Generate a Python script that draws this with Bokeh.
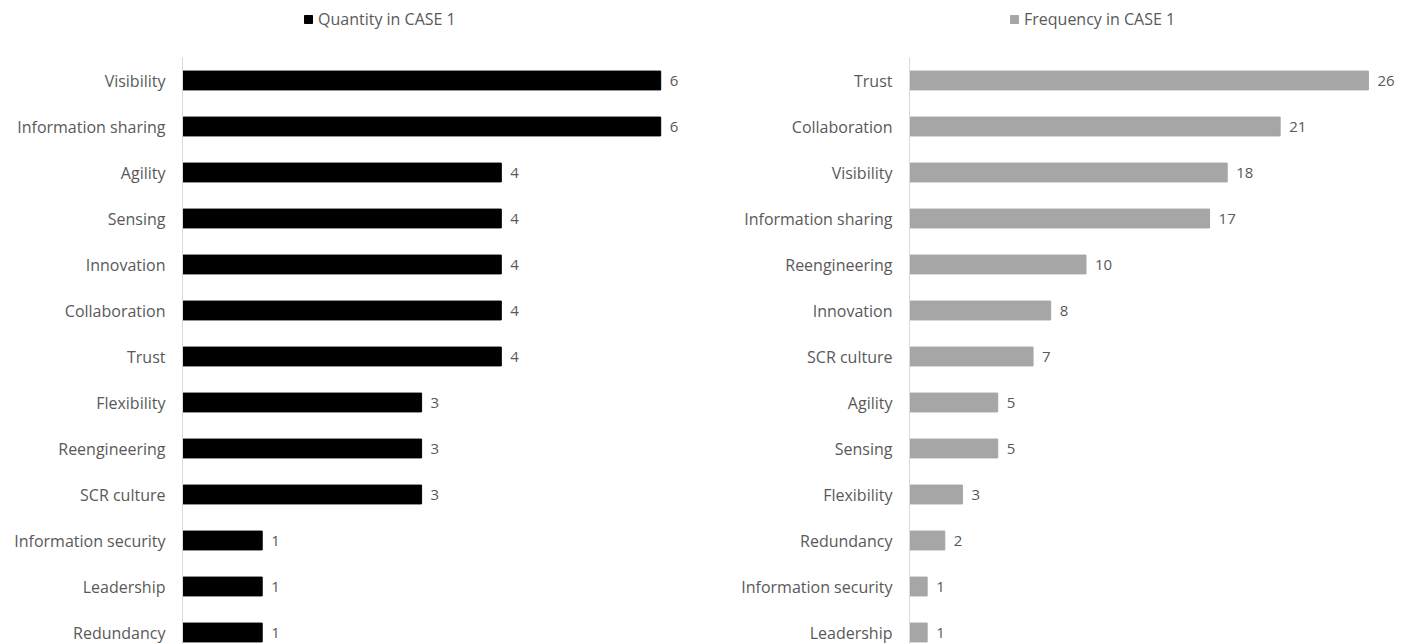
from bokeh.plotting import figure
from bokeh.layouts import row
from bokeh.models import Range1d, FixedTicker, Legend, LegendItem, ColumnDataSource
from bokeh.core.properties import value
from bokeh.embed import file_html
from bokeh.resources import INLINE

left_cats = ["Visibility", "Information sharing", "Agility", "Sensing", "Innovation",
             "Collaboration", "Trust", "Flexibility", "Reengineering", "SCR culture",
             "Information security", "Leadership", "Redundancy"]
left_vals = [6, 6, 4, 4, 4, 4, 4, 3, 3, 3, 1, 1, 1]

right_cats = ["Trust", "Collaboration", "Visibility", "Information sharing", "Reengineering",
              "Innovation", "SCR culture", "Agility", "Sensing", "Flexibility",
              "Redundancy", "Information security", "Leadership"]
right_vals = [26, 21, 18, 17, 10, 8, 7, 5, 5, 3, 2, 1, 1]

left_title = "Quantity in CASE 1"
right_title = "Frequency in CASE 1"

FONT = "Open Sans"
TXT = "#595959"
H = 644
ROW = 46.0


def make(cats, vals, color, title, width, border_left, border_right, xmax, leg_x):
    n = len(cats)
    ys = [n - 1 - i for i in range(n)]
    src = ColumnDataSource(dict(y=ys, v=vals, lab=[str(v) for v in vals]))
    top = (n - 1) + 80 / ROW
    bottom = top - H / ROW
    p = figure(width=width, height=H, output_backend="svg", toolbar_location=None,
               x_range=Range1d(0, xmax), y_range=Range1d(bottom, top),
               min_border_left=border_left, min_border_right=border_right,
               min_border_top=0, min_border_bottom=0)
    r = p.hbar(y="y", right="v", left=0, height=0.41, color=color, source=src)
    p.text(x="v", y="y", text="lab", source=src, x_offset=9, text_baseline="middle",
           text_align="left", text_color=TXT, text_font=value(FONT), text_font_size="15px")
    p.xaxis.visible = False
    p.xgrid.visible = False
    p.ygrid.visible = False
    p.outline_line_color = None
    ax = p.yaxis[0]
    ax.ticker = FixedTicker(ticks=ys)
    ax.bounds = (bottom, n - 0.5)
    ax.major_label_overrides = {y: c for y, c in zip(ys, cats)}
    ax.major_tick_line_color = None
    ax.minor_tick_line_color = None
    ax.axis_line_color = "#d9d9d9"
    ax.major_label_text_color = TXT
    ax.major_label_text_font = FONT
    ax.major_label_text_font_size = "16px"
    ax.major_label_standoff = 11
    leg = Legend(items=[LegendItem(label=title, renderers=[r])], location=(leg_x, H - 22 - 8),
                 orientation="horizontal", padding=0, margin=0, border_line_color=None,
                 background_fill_alpha=0, glyph_width=10, glyph_height=10, label_height=16,
                 label_standoff=5, label_text_color=TXT, label_text_font=FONT,
                 label_text_font_size="16px")
    p.add_layout(leg, "center")
    return p


p1 = make(left_cats, left_vals, "#000000", left_title, 722, 182, 0, 540 / 79.7, 121)
p2 = make(right_cats, right_vals, "#a6a6a6", right_title, 689, 187, 10, 492 / 17.65, 100)

layout = row(p1, p2)
open("out.html", "w").write(file_html(layout, INLINE))
